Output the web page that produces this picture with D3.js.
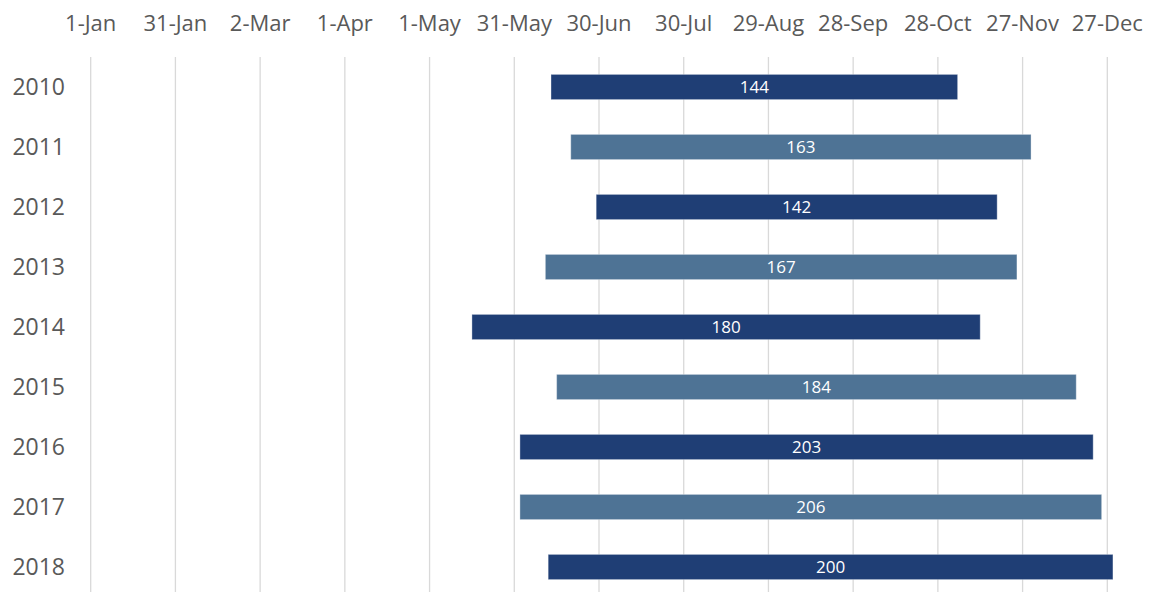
<!DOCTYPE html>
<html>
<head>
<meta charset="utf-8">
<script src="https://cdn.jsdelivr.net/npm/d3@7"></script>
<style>
  body { margin: 0; background: #fff; }
  text { font-family: "Open Sans", sans-serif; }
</style>
</head>
<body>
<script>
// season per year: start date (month-day) and length in days
var years = ["2010", "2011", "2012", "2013", "2014", "2015", "2016", "2017", "2018"];
var startDates = ["06-13", "06-20", "06-29", "06-11", "05-16", "06-15", "06-02", "06-02", "06-12"];
var durations = [144, 163, 142, 167, 180, 184, 203, 206, 200];
var axisStart = "01-01", axisEnd = "12-27", tickStepDays = 30;

var width = 1152, height = 592;
var parse = d3.utcParse("%m-%d"),
    fmt = d3.utcFormat("%-d-%b");

var data = years.map(function(y, i) {
  var s = parse(startDates[i]);
  return { year: y, start: s, end: d3.utcDay.offset(s, durations[i]), days: durations[i], i: i };
});

var x = d3.scaleUtc()
    .domain([parse(axisStart), parse(axisEnd)])
    .range([90.7, 1107.3]);

var y = d3.scaleBand()
    .domain(years)
    .range([57, 597])
    .paddingInner(0.58)
    .paddingOuter(0.29);

var ticks = d3.utcDay.range(x.domain()[0], d3.utcDay.offset(x.domain()[1], 1), tickStepDays);

var color = ["#1f3e75", "#4e7395"];

var svg = d3.select("body").append("svg")
    .attr("width", width)
    .attr("height", height);

// vertical gridlines
svg.append("g")
  .selectAll("line")
    .data(ticks)
  .enter().append("line")
    .attr("x1", function(d) { return x(d); })
    .attr("x2", function(d) { return x(d); })
    .attr("y1", 57)
    .attr("y2", height)
    .attr("stroke", "#d9d9d9")
    .attr("stroke-width", 1.3);

// top axis labels
svg.append("g")
  .selectAll("text")
    .data(ticks)
  .enter().append("text")
    .attr("x", function(d) { return x(d); })
    .attr("y", 31)
    .attr("text-anchor", "middle")
    .attr("fill", "#595959")
    .style("font-size", "22px")
    .text(function(d) { return fmt(d); });

// year labels
svg.append("g")
  .selectAll("text")
    .data(years)
  .enter().append("text")
    .attr("x", 65)
    .attr("y", function(d) { return y(d) + y.bandwidth() / 2; })
    .attr("dy", "0.36em")
    .attr("text-anchor", "end")
    .attr("fill", "#595959")
    .style("font-size", "23px")
    .text(function(d) { return d; });

// bars
svg.append("g")
  .selectAll("rect")
    .data(data)
  .enter().append("rect")
    .attr("x", function(d) { return x(d.start); })
    .attr("y", function(d) { return y(d.year); })
    .attr("width", function(d) { return x(d.end) - x(d.start); })
    .attr("height", y.bandwidth())
    .attr("fill", function(d) { return color[d.i % 2]; })
    .attr("stroke", "rgba(255,255,255,0.35)")
    .attr("stroke-width", 1);

// duration labels
svg.append("g")
  .selectAll("text")
    .data(data)
  .enter().append("text")
    .attr("x", function(d) { return (x(d.start) + x(d.end)) / 2; })
    .attr("y", function(d) { return y(d.year) + y.bandwidth() / 2; })
    .attr("dy", "0.36em")
    .attr("text-anchor", "middle")
    .attr("fill", "#fff")
    .style("font-size", "17px")
    .text(function(d) { return d.days; });
</script>
</body>
</html>
